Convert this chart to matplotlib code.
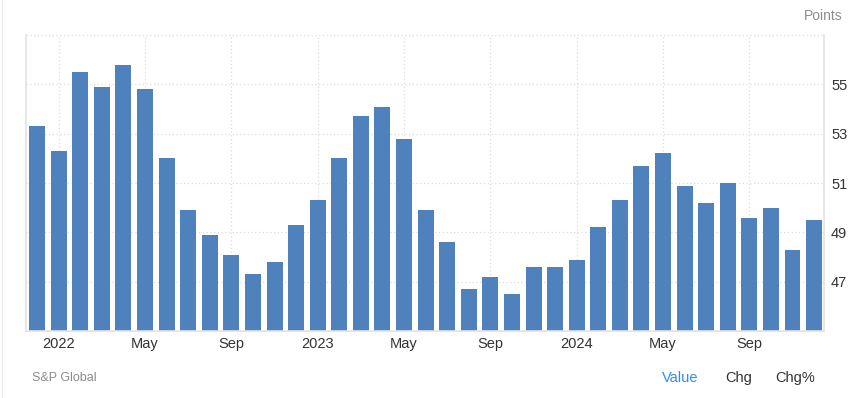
"""Eurozone composite PMI, monthly bars Dec 2021 - Dec 2024."""

import matplotlib
matplotlib.use("Agg")
import matplotlib.pyplot as plt
from matplotlib.lines import Line2D

plt.rcParams["font.family"] = ["Liberation Sans", "DejaVu Sans"]

# ── data ────────────────────────────────────────────────────────────────
MONTHS = [
    "2021-12",
    "2022-01", "2022-02", "2022-03", "2022-04", "2022-05", "2022-06",
    "2022-07", "2022-08", "2022-09", "2022-10", "2022-11", "2022-12",
    "2023-01", "2023-02", "2023-03", "2023-04", "2023-05", "2023-06",
    "2023-07", "2023-08", "2023-09", "2023-10", "2023-11", "2023-12",
    "2024-01", "2024-02", "2024-03", "2024-04", "2024-05", "2024-06",
    "2024-07", "2024-08", "2024-09", "2024-10", "2024-11", "2024-12",
]
VALUES = [
    53.3,
    52.3, 55.5, 54.9, 55.8, 54.8, 52.0, 49.9, 48.9, 48.1, 47.3, 47.8, 49.3,
    50.3, 52.0, 53.7, 54.1, 52.8, 49.9, 48.6, 46.7, 47.2, 46.5, 47.6, 47.6,
    47.9, 49.2, 50.3, 51.7, 52.2, 50.9, 50.2, 51.0, 49.6, 50.0, 48.3, 49.5,
]
MONTH_ABBR = {"01": None, "05": "May", "09": "Sep"}
Y_TICKS = [47, 49, 51, 53, 55]
Y_GRID = [47, 49, 51, 53, 55, 57]

BAR_COLOR = "#4f81bd"
GRID_COLOR = "#dcdcdc"
AXIS_COLOR = "#e3e3e3"
TEXT_COLOR = "#333333"
MUTED = "#8c8c8c"

fig = plt.figure(figsize=(8.58, 3.98), dpi=100)
ax = fig.add_axes([0.0307, 0.168, 0.9297, 0.744])

x = list(range(len(VALUES)))
ax.bar(x, [v - 45 for v in VALUES], bottom=45, width=0.74,
       color=BAR_COLOR, zorder=2)

ax.set_xlim(-0.5, 36.46)
ax.set_ylim(45, 57)

# x ticks at Jan / May / Sep
tick_pos, tick_lbl = [], []
for i, m in enumerate(MONTHS):
    yr, mo = m.split("-")
    if mo in MONTH_ABBR:
        tick_pos.append(i)
        tick_lbl.append(yr if mo == "01" else MONTH_ABBR[mo])
ax.set_xticks(tick_pos)
ax.set_xticklabels(tick_lbl, fontsize=10.5, color=TEXT_COLOR)

ax.set_yticks(Y_TICKS)
ax.set_yticklabels([str(t) for t in Y_TICKS], fontsize=10.5, color=TEXT_COLOR)
ax.yaxis.tick_right()
ax.tick_params(axis="both", length=0)
ax.tick_params(axis="x", pad=4)
ax.tick_params(axis="y", pad=5)

# dotted grid
for yv in Y_GRID:
    ax.axhline(yv, color=GRID_COLOR, linestyle=(0, (1, 2)), linewidth=0.9,
               zorder=1, clip_on=False)
for xv in tick_pos:
    ax.axvline(xv, color=GRID_COLOR, linestyle=(0, (1, 2)), linewidth=0.9,
               zorder=1)

for side in ("top",):
    ax.spines[side].set_visible(False)
for side in ("left", "right", "bottom"):
    ax.spines[side].set_color(AXIS_COLOR)
    ax.spines[side].set_linewidth(1.2)

# outer frame hint on the left edge
fig.add_artist(Line2D([0.0025, 0.0025], [0, 1], color="#ececec",
                      linewidth=1.0, transform=fig.transFigure))

# header / footer texts
fig.text(0.982, 0.96, "Points", ha="right", va="center", fontsize=10,
         color=MUTED)
fig.text(0.037, 0.05, "S&P Global", ha="left", va="center", fontsize=9,
         color=MUTED)
fig.text(0.771, 0.05, "Value", ha="left", va="center", fontsize=10.5,
         color="#2f8ff0")
fig.text(0.845, 0.05, "Chg", ha="left", va="center", fontsize=10.5,
         color=TEXT_COLOR)
fig.text(0.904, 0.05, "Chg%", ha="left", va="center", fontsize=10.5,
         color=TEXT_COLOR)

fig.savefig("out.png", dpi=100)
